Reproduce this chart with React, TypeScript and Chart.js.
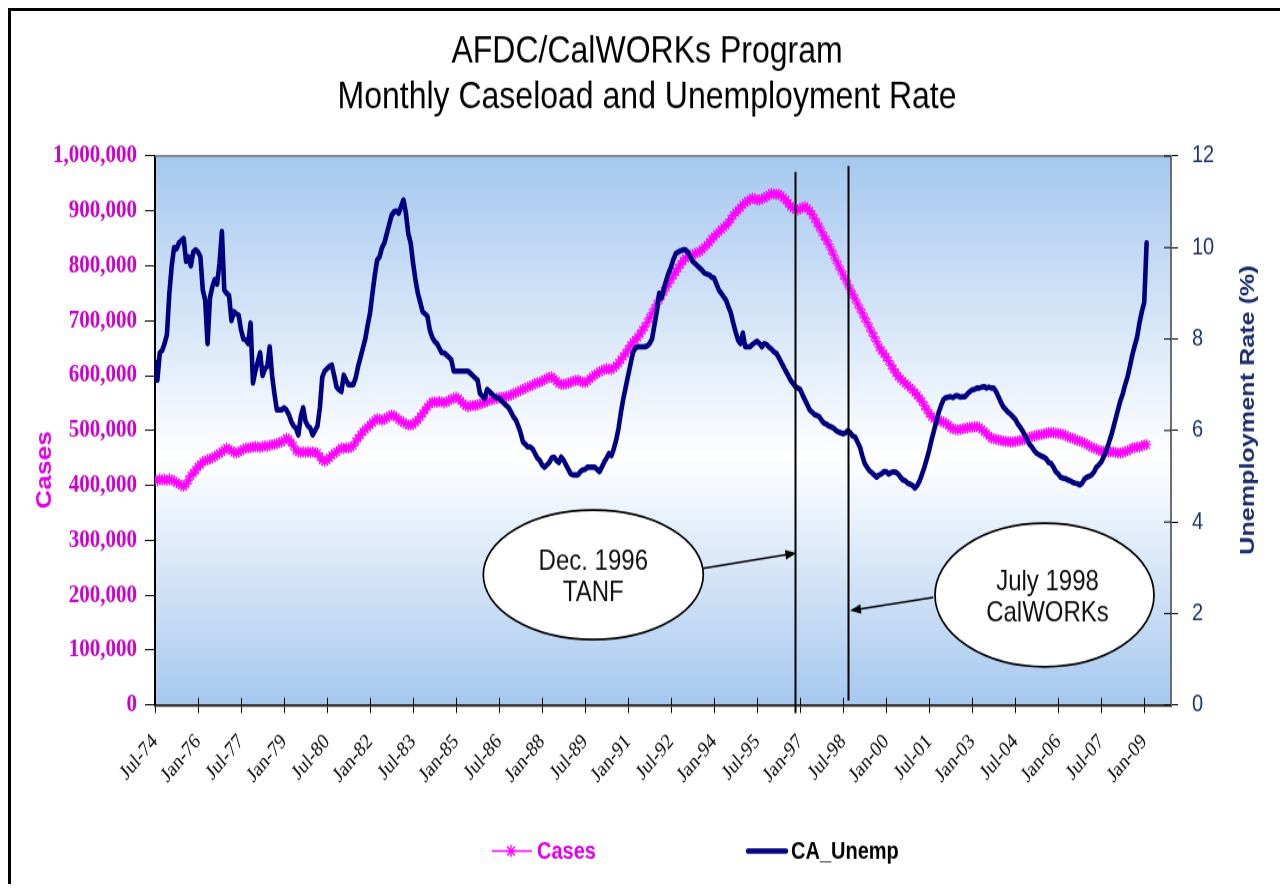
import React, { useEffect, useRef } from "react";
import { Chart, registerables } from "chart.js";

Chart.register(...registerables);

const SANS = '"Liberation Sans", Arial, sans-serif';
const SERIF = '"Liberation Serif", "Times New Roman", serif';

const titleLines = ["AFDC/CalWORKs Program", "Monthly Caseload and Unemployment Rate"];
const xTickLabels = [
  "Jul-74", "Jan-76", "Jul-77", "Jan-79", "Jul-80", "Jan-82", "Jul-83", "Jan-85",
  "Jul-86", "Jan-88", "Jul-89", "Jan-91", "Jul-92", "Jan-94", "Jul-95", "Jan-97",
  "Jul-98", "Jan-00", "Jul-01", "Jan-03", "Jul-04", "Jan-06", "Jul-07", "Jan-09",
];
const monthsPerTick = 18;
const seriesLabels = ["Cases", "CA_Unemp"];
const leftAxisTitle = "Cases";
const rightAxisTitle = "Unemployment Rate (%)";
const callouts = [
  { lines: ["Dec. 1996", "TANF"], month: 268 },
  { lines: ["July 1998", "CalWORKs"], month: 290 },
];

// monthly caseload, thousands of cases, from Jul-74
const casesThousands = [
  410, 408, 412, 410, 411, 409, 412, 410, 408, 405, 403, 400,
  398, 402, 410, 418, 422, 428, 434, 438, 443, 445, 447, 448,
  450, 453, 455, 458, 461, 465, 468, 466, 463, 460, 459, 461,
  463, 466, 468, 468, 469, 470, 471, 470, 469, 471, 472, 471,
  473, 474, 475, 476, 478, 479, 482, 486, 484, 478, 472, 463,
  461, 460, 461, 460, 461, 460, 461, 460, 459, 452, 446, 444,
  446, 450, 455, 458, 461, 465, 468, 467, 469, 468, 470, 472,
  480, 486, 492, 498, 502, 506, 510, 515, 518, 522, 520, 518,
  521, 523, 526, 528, 527, 524, 520, 517, 515, 512, 510, 510,
  511, 515, 519, 525, 531, 537, 543, 548, 552, 552, 551, 553,
  552, 550, 552, 555, 557, 559, 561, 558, 554, 549, 545, 543,
  545, 546, 545, 547, 548, 550, 551, 553, 555, 556, 557, 559,
  560, 560, 561, 562, 563, 565, 567, 569, 571, 573, 575, 577,
  579, 581, 583, 585, 587, 588, 590, 593, 595, 597, 598, 594,
  590, 586, 584, 584, 585, 586, 588, 590, 591, 592, 590, 588,
  587, 590, 594, 598, 601, 604, 607, 609, 611, 613, 612, 611,
  614, 618, 623, 629, 635, 641, 648, 655, 661, 665, 670, 676,
  683, 689, 697, 705, 714, 722, 730, 738, 746, 754, 762, 768,
  776, 783, 789, 796, 803, 809, 814, 817, 819, 820, 822, 824,
  826, 830, 834, 838, 843, 849, 853, 858, 862, 866, 870, 874,
  879, 885, 892, 897, 901, 906, 911, 915, 918, 921, 923, 922,
  920, 920, 922, 924, 926, 929, 932, 931, 930, 930, 928, 924,
  920, 914, 908, 905, 903, 902, 904, 906, 908, 905, 900, 894,
  886, 878, 871, 862, 854, 847, 839, 829, 820, 810, 801, 792,
  783, 775, 766, 757, 748, 740, 731, 722, 714, 705, 697, 688,
  679, 671, 662, 652, 646, 640, 634, 627, 619, 612, 605, 599,
  594, 590, 586, 582, 578, 574, 569, 564, 559, 553, 545, 538,
  531, 525, 522, 520, 519, 517, 515, 513, 510, 505, 503, 502,
  501, 502, 503, 504, 505, 506, 506, 507, 507, 506, 502, 498,
  495, 490, 486, 485, 484, 483, 482, 481, 480, 480, 479, 479,
  480, 481, 482, 483, 484, 486, 488, 489, 490, 491, 492, 493,
  494, 495, 496, 496, 496, 495, 495, 494, 493, 491, 489, 487,
  486, 484, 482, 481, 479, 477, 475, 472, 470, 468, 466, 464,
  463, 462, 462, 461, 461, 461, 460, 459, 459, 460, 461, 463,
  465, 468, 469, 470, 470, 472, 474, 474,
];

// monthly California unemployment rate (%), from Jul-74
const unempRate = [
  7.5, 7.1, 7.7, 7.75, 7.9, 8.1, 9.0, 9.6, 10.0, 9.97, 10.1, 10.15,
  10.2, 9.7, 9.8, 9.6, 9.9, 9.95, 9.9, 9.8, 9.07, 8.85, 7.9, 8.9,
  9.14, 9.3, 9.2, 9.66, 10.35, 9.07, 9.0, 8.95, 8.4, 8.6, 8.55, 8.52,
  8.2, 8.0, 7.98, 7.9, 8.35, 7.04, 7.3, 7.5, 7.7, 7.2, 7.35, 7.4,
  7.83, 7.2, 6.8, 6.45, 6.45, 6.45, 6.5, 6.45, 6.35, 6.2, 6.1, 6.05,
  5.9, 6.3, 6.5, 6.2, 6.1, 6.05, 5.9, 6.0, 6.1, 6.5, 7.17, 7.3,
  7.35, 7.4, 7.43, 7.2, 6.95, 6.89, 6.85, 7.21, 7.1, 7.0, 7.0, 7.0,
  7.15, 7.4, 7.6, 7.8, 8.0, 8.3, 8.57, 9.0, 9.4, 9.73, 9.8, 10.0,
  10.1, 10.3, 10.5, 10.7, 10.78, 10.8, 10.75, 10.9, 11.04, 10.75, 10.3, 10.1,
  9.66, 9.3, 9.0, 8.8, 8.6, 8.55, 8.5, 8.2, 8.04, 7.95, 7.9, 7.8,
  7.7, 7.7, 7.65, 7.6, 7.55, 7.3, 7.3, 7.3, 7.3, 7.3, 7.3, 7.3,
  7.25, 7.2, 7.15, 7.1, 6.81, 6.75, 6.7, 6.9, 6.85, 6.8, 6.75, 6.72,
  6.7, 6.65, 6.6, 6.55, 6.5, 6.4, 6.3, 6.23, 6.1, 5.95, 5.75, 5.7,
  5.64, 5.64, 5.6, 5.5, 5.4, 5.35, 5.25, 5.2, 5.25, 5.3, 5.4, 5.42,
  5.35, 5.3, 5.42, 5.35, 5.25, 5.15, 5.05, 5.03, 5.03, 5.03, 5.1, 5.14,
  5.15, 5.2, 5.2, 5.2, 5.2, 5.15, 5.1, 5.2, 5.31, 5.4, 5.5, 5.45,
  5.6, 5.79, 6.05, 6.4, 6.7, 6.95, 7.2, 7.45, 7.7, 7.8, 7.83, 7.83,
  7.83, 7.83, 7.85, 7.9, 8.0, 8.3, 8.6, 9.0, 8.9, 9.1, 9.29, 9.45,
  9.58, 9.75, 9.87, 9.9, 9.93, 9.95, 9.95, 9.9, 9.8, 9.7, 9.65, 9.6,
  9.55, 9.5, 9.44, 9.42, 9.4, 9.35, 9.33, 9.2, 9.07, 9.0, 8.92, 8.85,
  8.7, 8.57, 8.35, 8.15, 7.98, 7.9, 8.13, 7.83, 7.83, 7.83, 7.88, 7.92,
  7.95, 7.9, 7.83, 7.9, 7.88, 7.82, 7.78, 7.72, 7.69, 7.6, 7.5, 7.4,
  7.3, 7.2, 7.1, 7.03, 6.96, 6.93, 6.9, 6.78, 6.67, 6.56, 6.45, 6.4,
  6.35, 6.33, 6.3, 6.22, 6.16, 6.14, 6.1, 6.08, 6.05, 6.0, 5.97, 5.95,
  5.93, 5.95, 6.0, 5.95, 5.88, 5.86, 5.75, 5.64, 5.45, 5.28, 5.2, 5.12,
  5.08, 5.03, 4.98, 5.03, 5.05, 5.1, 5.1, 5.05, 5.08, 5.1, 5.09, 5.05,
  4.98, 4.92, 4.9, 4.85, 4.83, 4.8, 4.74, 4.8, 4.9, 5.05, 5.2, 5.38,
  5.57, 5.8, 6.0, 6.2, 6.4, 6.55, 6.68, 6.72, 6.73, 6.74, 6.72, 6.76,
  6.76, 6.73, 6.74, 6.74, 6.8, 6.85, 6.89, 6.9, 6.93, 6.93, 6.95, 6.96,
  6.93, 6.95, 6.93, 6.93, 6.85, 6.74, 6.62, 6.52, 6.46, 6.4, 6.36, 6.3,
  6.25, 6.15, 6.08, 6.0, 5.9, 5.8, 5.7, 5.64, 5.56, 5.5, 5.47, 5.44,
  5.42, 5.38, 5.3, 5.28, 5.2, 5.1, 5.05, 4.98, 4.96, 4.95, 4.92, 4.9,
  4.87, 4.85, 4.84, 4.81, 4.85, 4.94, 4.98, 5.0, 5.03, 5.1, 5.2, 5.25,
  5.31, 5.42, 5.55, 5.7, 5.86, 6.05, 6.25, 6.45, 6.65, 6.8, 7.0, 7.17,
  7.4, 7.65, 7.85, 8.04, 8.35, 8.6, 8.8, 10.1,
];

const MAGENTA = "#ff00ff";
const NAVY = "#000080";

// The canvas is drawn at a reduced height and shown vertically stretched,
// like the reference picture (tall, narrow lettering).
const CANVAS_W = 1272;
const CANVAS_H = 728;
const SHOWN_H = 873;
const SY = SHOWN_H / CANVAS_H;
const cy = (pageY: number) => (pageY - 11) / SY; // page y -> canvas y
const cx = (pageX: number) => pageX - 11; // page x -> canvas x

function drawStar(ctx: CanvasRenderingContext2D, x: number, y: number, r: number) {
  const d = r * 0.75;
  ctx.beginPath();
  ctx.moveTo(x - d, y - d); ctx.lineTo(x + d, y + d);
  ctx.moveTo(x - d, y + d); ctx.lineTo(x + d, y - d);
  ctx.moveTo(x, y - r); ctx.lineTo(x, y + r);
  ctx.moveTo(x - r, y); ctx.lineTo(x + r, y);
  ctx.stroke();
}

function drawArrow(ctx: CanvasRenderingContext2D, x1: number, y1: number, x2: number, y2: number) {
  const a = Math.atan2(y2 - y1, x2 - x1);
  const L = 11, W = 4;
  const c = Math.cos(a), s = Math.sin(a);
  ctx.beginPath();
  ctx.moveTo(x1, y1);
  ctx.lineTo(x2 - L * 0.7 * c, y2 - L * 0.7 * s);
  ctx.stroke();
  ctx.beginPath();
  ctx.moveTo(x2, y2);
  ctx.lineTo(x2 - L * c + W * s, y2 - L * s - W * c);
  ctx.lineTo(x2 - L * c - W * s, y2 - L * s + W * c);
  ctx.closePath();
  ctx.fill();
}

const backgroundPlugin = {
  id: "plotBackground",
  beforeDraw(chart: any) {
    const { ctx, chartArea: a } = chart;
    const g = ctx.createLinearGradient(0, a.top, 0, a.bottom);
    g.addColorStop(0, "#a6c8ef");
    g.addColorStop(0.55, "#ffffff");
    g.addColorStop(1, "#a6c8ef");
    ctx.save();
    ctx.fillStyle = g;
    ctx.fillRect(a.left, a.top, a.right - a.left, a.bottom - a.top);
    ctx.restore();
  },
};

const calloutPlugin = {
  id: "callouts",
  afterDatasetsDraw(chart: any) {
    const { ctx, scales } = chart;
    const xs = scales.x, y1 = scales.y1;
    ctx.save();
    ctx.strokeStyle = "#000";
    ctx.fillStyle = "#000";
    ctx.lineWidth = 2;
    const tops = [11.65, 11.78];
    const bottoms = [-0.18, 0.1];
    callouts.forEach((c, i) => {
      const px = Math.round(xs.getPixelForValue(c.month)) + 0.5;
      ctx.beginPath();
      ctx.moveTo(px, y1.getPixelForValue(tops[i]));
      ctx.lineTo(px, y1.getPixelForValue(bottoms[i]));
      ctx.stroke();
    });
    const ell = [
      { x: 593.3, y: 574.7, rx: 110, ry: 64.7, ax: 703.3, ay: 568.3, tipY: 553, dx: 0, l1: 561.7, l2: 593.3 },
      { x: 1044.5, y: 595, rx: 109.5, ry: 71.7, ax: 933.3, ay: 597.3, tipY: 610.7, dx: 3, l1: 581.7, l2: 613.3 },
    ];
    ell.forEach((e, i) => {
      const lineX = xs.getPixelForValue(callouts[i].month);
      ctx.lineWidth = 1.5;
      ctx.strokeStyle = "#000";
      ctx.fillStyle = "#000";
      drawArrow(ctx, cx(e.ax), cy(e.ay), i === 0 ? lineX + 1 : lineX + 2, cy(e.tipY));
      ctx.beginPath();
      ctx.ellipse(cx(e.x), cy(e.y), e.rx, e.ry / SY, 0, 0, Math.PI * 2);
      ctx.fillStyle = "#fff";
      ctx.fill();
      ctx.lineWidth = 1.7;
      ctx.stroke();
      ctx.fillStyle = "#111";
      ctx.font = `24px ${SANS}`;
      ctx.textAlign = "center";
      ctx.textBaseline = "middle";
      const lines = callouts[i].lines;
      ctx.fillText(lines[0], cx(e.x) + e.dx, cy(e.l1));
      ctx.fillText(lines[1], cx(e.x) + e.dx, cy(e.l2));
    });
    ctx.restore();
  },
};

const framePlugin = {
  id: "frameExtras",
  afterDraw(chart: any) {
    const { ctx, chartArea: a, scales } = chart;
    ctx.save();
    ctx.strokeStyle = "#808080";
    ctx.lineWidth = 1.7;
    ctx.beginPath();
    ctx.moveTo(a.left, a.top);
    ctx.lineTo(a.right + 1, a.top);
    ctx.stroke();
    ctx.strokeStyle = "#000";
    ctx.lineWidth = 1;
    scales.x.ticks.forEach((t: any) => {
      const px = Math.round(scales.x.getPixelForValue(t.value)) + 0.5;
      ctx.beginPath();
      ctx.moveTo(px, a.bottom - 6);
      ctx.lineTo(px, a.bottom);
      ctx.stroke();
    });
    scales.y1.ticks.forEach((t: any) => {
      const py = scales.y1.getPixelForValue(t.value);
      ctx.beginPath();
      ctx.moveTo(a.right - 7, py);
      ctx.lineTo(a.right, py);
      ctx.stroke();
    });
    ctx.textAlign = "center";
    ctx.textBaseline = "middle";
    ctx.save();
    ctx.translate(cx(45), cy(470));
    ctx.rotate(-Math.PI / 2);
    ctx.fillStyle = "#e600e6";
    ctx.font = `bold 22px ${SANS}`;
    ctx.fillText(leftAxisTitle, 0, 0);
    ctx.restore();
    ctx.save();
    ctx.translate(cx(1248), cy(410));
    ctx.rotate(-Math.PI / 2);
    ctx.fillStyle = "#1c2c6e";
    ctx.font = `bold 21px ${SANS}`;
    ctx.fillText(rightAxisTitle, 0, 0);
    ctx.restore();
    const ly = cy(851);
    ctx.strokeStyle = MAGENTA;
    ctx.lineWidth = 1.4;
    ctx.beginPath();
    ctx.moveTo(cx(492), ly);
    ctx.lineTo(cx(532), ly);
    ctx.stroke();
    drawStar(ctx, cx(511), ly, 5);
    ctx.textAlign = "left";
    ctx.font = `bold 20px ${SANS}`;
    ctx.fillStyle = "#dd00e6";
    ctx.fillText(seriesLabels[0], cx(537), ly + 1);
    ctx.strokeStyle = NAVY;
    ctx.lineWidth = 4.5;
    ctx.lineCap = "round";
    ctx.beginPath();
    ctx.moveTo(cx(748), ly);
    ctx.lineTo(cx(786), ly);
    ctx.stroke();
    ctx.fillStyle = "#000";
    ctx.fillText(seriesLabels[1], cx(791), ly + 1);
    ctx.restore();
  },
};

export default function App() {
  const ref = useRef<HTMLCanvasElement>(null);

  useEffect(() => {
    if (!ref.current) return;
    const chart = new Chart(ref.current, {
      type: "line",
      data: {
        datasets: [
          {
            label: seriesLabels[0],
            data: casesThousands.map((v, i) => ({ x: i, y: v * 1000 })),
            yAxisID: "y",
            borderColor: MAGENTA,
            backgroundColor: MAGENTA,
            borderWidth: 1.2,
            pointStyle: "star",
            pointRadius: 4.6,
            pointBorderWidth: 1.2,
            pointBorderColor: MAGENTA,
            order: 2,
          },
          {
            label: seriesLabels[1],
            data: unempRate.map((v, i) => ({ x: i, y: v })),
            yAxisID: "y1",
            borderColor: NAVY,
            backgroundColor: NAVY,
            borderWidth: 4.6,
            pointRadius: 0,
            borderJoinStyle: "round",
            borderCapStyle: "round",
            order: 1,
          },
        ],
      } as any,
      options: {
        responsive: false,
        animation: false,
        devicePixelRatio: 1,
        events: [],
        layout: { padding: 0 },
        plugins: {
          legend: { display: false },
          tooltip: { enabled: false },
          title: {
            display: true,
            text: titleLines,
            color: "#000",
            font: { family: SANS, size: 32, weight: "normal", lineHeight: 37.5 / 32 },
            padding: { top: cy(52) - 18.75, bottom: cy(156) - (cy(52) - 18.75) - 75 },
          },
        },
        scales: {
          x: {
            type: "linear",
            min: 0,
            max: 425.2,
            afterBuildTicks: (s: any) => {
              s.ticks = xTickLabels.map((_, i) => ({ value: i * monthsPerTick }));
            },
            afterFit: (s: any) => { s.height = CANVAS_H - cy(705); },
            ticks: {
              autoSkip: false,
              maxRotation: 45,
              minRotation: 45,
              padding: 13.5,
              color: "#000",
              font: { family: SERIF, size: 18 },
              callback: (_v: any, i: number) => xTickLabels[i],
            },
            grid: { drawOnChartArea: false, drawTicks: true, tickLength: 6.7, color: "#000", lineWidth: 1 },
            border: { display: true, color: "#333", width: 2.2 },
          },
          y: {
            type: "linear",
            position: "left",
            min: 0,
            max: 1000000,
            afterFit: (s: any) => { s.width = cx(155); },
            ticks: {
              stepSize: 100000,
              padding: 8,
              color: "#cc00cc",
              font: { family: SERIF, size: 21, weight: "bold" },
              callback: (v: any) => Number(v).toLocaleString("en-US"),
            },
            grid: { drawOnChartArea: false, tickLength: 10, color: "#000", lineWidth: 1 },
            border: { display: true, color: "#000", width: 2 },
          },
          y1: {
            type: "linear",
            position: "right",
            min: 0,
            max: 12,
            afterFit: (s: any) => { s.width = CANVAS_W - cx(1171); },
            ticks: {
              stepSize: 2,
              padding: 14,
              color: "#1f3172",
              font: { family: SANS, size: 20 },
            },
            grid: { drawOnChartArea: false, tickLength: 7, color: "#000", lineWidth: 1 },
            border: { display: true, color: "#6e6e6e", width: 2 },
          },
        },
      } as any,
      plugins: [backgroundPlugin, calloutPlugin, framePlugin],
    });
    return () => chart.destroy();
  }, []);

  return (
    <div
      style={{
        position: "relative",
        width: 1278,
        height: 876,
        boxSizing: "border-box",
        borderTop: "3px solid #000",
        borderLeft: "3px solid #000",
        borderRight: "3px solid #000",
        background: "#fff",
      }}
    >
      <canvas
        ref={ref}
        width={CANVAS_W}
        height={CANVAS_H}
        style={{ display: "block", width: CANVAS_W, height: SHOWN_H }}
      />
    </div>
  );
}
